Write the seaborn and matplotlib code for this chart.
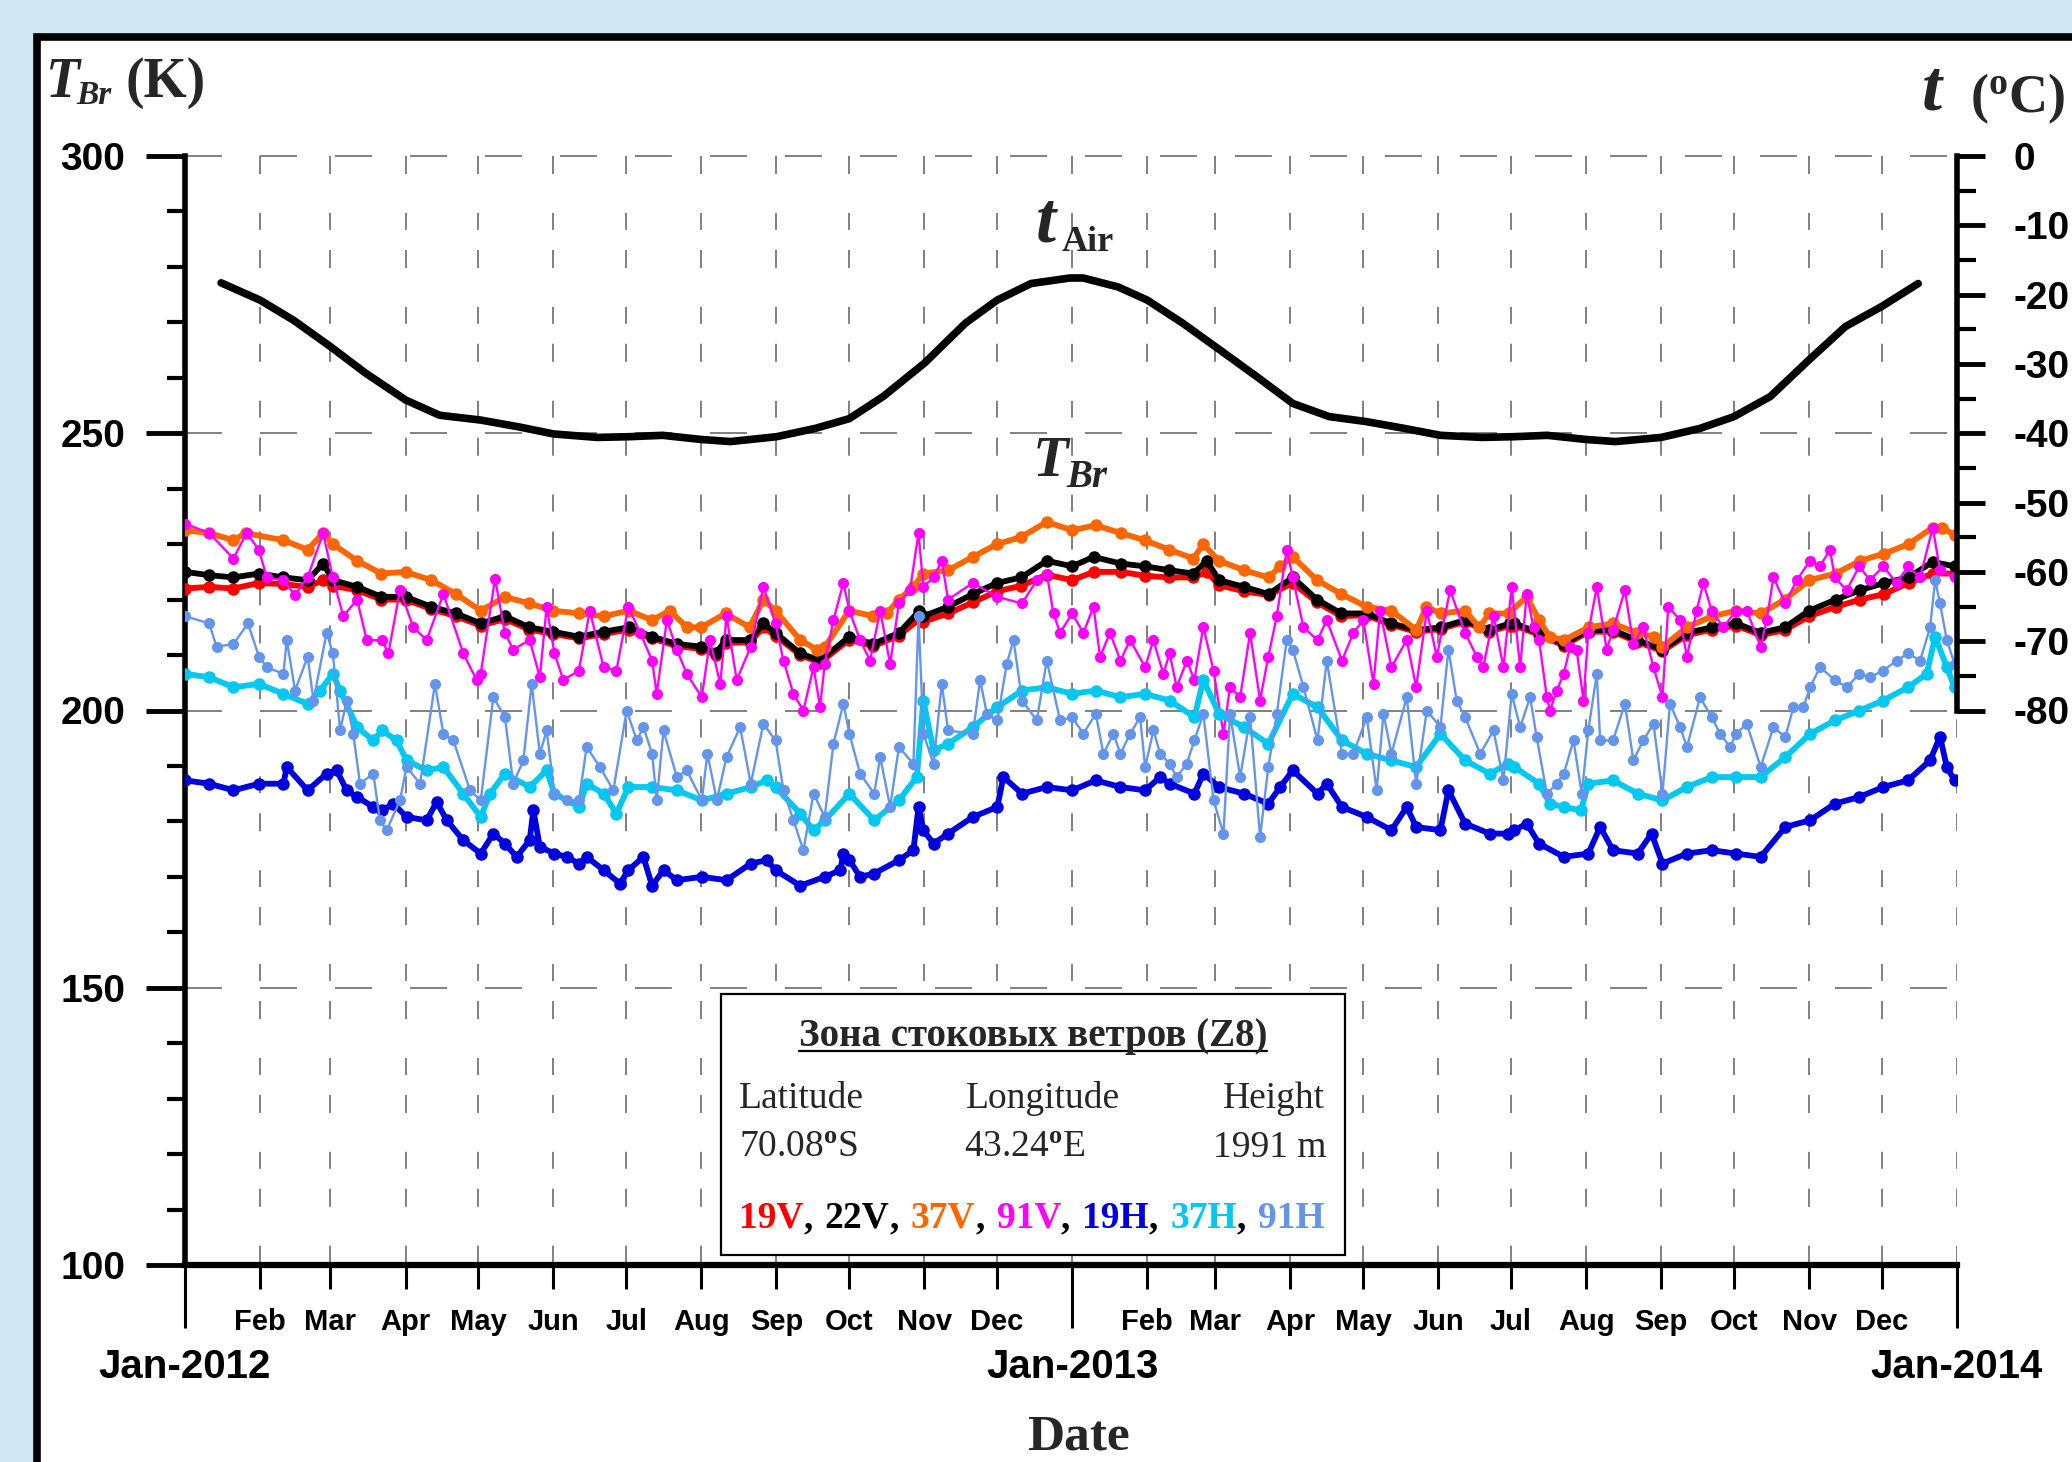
import numpy as np
import pandas as pd
import matplotlib
matplotlib.use('Agg')
import matplotlib.pyplot as plt
import matplotlib.dates as mdates
from matplotlib.patches import Rectangle
from matplotlib.lines import Line2D
from matplotlib.ticker import FixedLocator, FixedFormatter
import seaborn as sns

# ---------------- data (days since 2012-01-01, brightness temperature K) -------------
days_19v_22v = [0, 10, 20, 30.5, 40.6, 50.6, 57, 61, 71, 81, 91, 101.6, 111.8, 122, 132, 142, 152, 162.5, 172.7, 183,
                192.7, 203, 213, 219, 223, 233, 238.6, 243.6, 253.8, 262, 274, 284, 294.5, 303, 304.6, 314.8, 325, 335, 345, 355.5, 366,
                374.8, 386, 396, 406, 416, 421.5, 426.6, 436.8, 447, 457, 467, 477, 487.5, 497.7, 508, 518, 528, 538, 546.6,
                548.4, 558.6, 568.8, 579, 589, 599, 609.5, 619.6, 630, 640, 650, 660, 670, 681, 691, 701, 711, 721, 730]
tb_22v = [225, 224.4, 224, 224.7, 224, 223.5, 226.5, 223.5, 222.3, 220.5, 220.5, 218.7, 217.5, 215.7, 217, 215, 214.2, 213.3, 214.2, 215,
          213.3, 212, 211.5, 210.3, 212.7, 212.7, 215.7, 214, 210.3, 209, 213.3, 212, 214, 218, 217, 218.7, 221, 223, 224, 227, 226,
          227.7, 226.5, 226, 225.3, 224.7, 227, 223.5, 222.3, 221, 224, 220, 217.5, 217.5, 215.7, 214.5, 215, 216.3, 214.5, 215.7,
          215.7, 214, 212, 214.5, 214.5, 212.7, 211, 214, 215, 215.7, 214, 215, 218, 220, 221.7, 223, 224, 226.8, 226]
tb_19v = [222, 222.3, 222, 223, 222.8, 222.3, 223.5, 222.5, 221.7, 220, 220, 218.3, 217, 215.3, 216.5, 214.6, 213.8, 213, 213.8, 214.6,
          213, 211.6, 211.1, 210, 212.2, 212.3, 215, 213.5, 210, 208.6, 212.8, 211.6, 213.5, 216.5, 216, 217.5, 219.5, 221.5, 222.5, 224.5, 223.5,
          225, 225, 224.3, 224, 224, 225, 222.6, 221.5, 220.8, 223, 219.5, 217, 217.2, 215.4, 214.2, 214.7, 216, 214.2, 215.3,
          215.3, 213.7, 211.7, 214.2, 214.2, 212.4, 210.7, 213.6, 214.6, 215.3, 213.6, 214.5, 217, 218.7, 220, 221, 223, 224.7, 224.7]

days_37v = [0, 10, 20, 25, 40.6, 50.6, 57, 61, 71, 81, 91, 101.6, 111.8, 122, 132, 142, 152, 162.5, 172.7, 183,
            192.7, 200, 207, 213, 223, 233, 238.6, 243.6, 253.8, 260.6, 264, 274, 284, 289.5, 294.5, 300.5, 304.6, 314.8, 325, 335, 345, 355.5, 366,
            375.7, 386, 396, 406, 416, 420, 426.6, 436.8, 447, 451.8, 457, 467, 477, 487.5, 497.7, 508, 512, 518, 528, 534, 538, 546,
            553.5, 558.6, 563, 569, 579, 589, 599, 606, 609.5, 619.6, 630, 640, 650, 660, 670, 681, 691, 701, 711, 721, 725, 730]
tb_37v = [232.5, 232, 230.7, 232, 230.7, 229, 232, 230, 227, 224.7, 225, 223.5, 221, 218, 220.5, 219.3, 218, 217.5, 217, 218,
          216.3, 218, 215, 215, 217.5, 215, 220, 218, 212.7, 211, 211.5, 218, 217, 217.5, 220, 222.3, 224.7, 225.3, 227.7, 230, 231.3, 234, 232.5,
          233.4, 232, 230.7, 229, 227.4, 230, 227, 225.3, 224, 226, 227.7, 223.5, 221, 218.7, 218, 214.5, 218.7, 217.5, 218, 215, 217.5, 217.5,
          220.5, 216.3, 213.3, 212.7, 215, 215.7, 214, 213.3, 211.5, 215, 217, 218, 217.5, 220, 223.5, 224.7, 227, 228.3, 230, 233, 233, 231.6]

days_91v = [0, 10, 20, 25.4, 30.5, 33.7, 40.6, 45.4, 50.6, 57, 61, 65.3, 71, 75, 81.3, 83.9, 88.7, 94.2, 99.7, 106.6, 114.8, 120.3,
            122, 127.9, 132, 135.4, 142.2, 146.4, 149.2, 152.4, 156.1, 162.5, 167, 172.7, 178, 182.9,
            187.8, 192.7, 194.6, 198.8, 202.9, 207, 213.2, 216.6, 220.8, 223.4, 227.6, 233.4, 238.6, 243.6, 246.9, 251, 255.1, 259.3,
            262, 263.9, 267.5, 271.6, 274.1, 278.5, 282.6, 286.8, 290.9, 294.5, 299.1, 302.6, 304.6, 308.8, 312.2, 314.8, 325, 335.1,
            345.3, 351.4, 355.5, 358.3, 361, 366,
            370.6, 374.8, 377.5, 381.6, 385.9, 389.9, 396.1, 399.5, 403.6, 406.2, 409.1, 413.3, 416.4, 420.1, 424.3, 428.4, 431.1,
            435.3, 439.4, 443.5, 446.9, 450.4, 454.5, 457, 461.4, 467.2, 471, 477.3, 482, 486.1, 490.3, 493, 497.7, 504, 507.9, 512.3,
            516.4, 521.9, 528.1, 532.9, 535.6, 539.8, 543.9,
            547.3, 550.8, 553.5, 556.3, 558.6, 561.8, 563.1, 565.9, 568.8, 571.4, 574.1, 576.9, 578.9, 582.4, 586.5, 589.1, 594,
            597.5, 601.6, 605.8, 609.5, 611.9, 616.8, 619.6, 623.6, 626.4, 629.8, 634.6, 639.9, 644.3, 650, 652.5, 655.3, 660.2,
            664.9, 670.4, 674.5, 678.6, 680.6, 685.5, 690.7, 695.1, 700.6, 706.1, 710.8, 715.8, 721, 724, 730]
tb_91v = [233.7, 232, 227.4, 232, 229, 224, 223.5, 220.8, 224, 232, 224, 217, 220, 212.7, 212.7, 210.3, 221.7, 215, 212.7, 221, 210.3, 205.5,
          206.6, 223.8, 214, 211, 212.7, 206, 218.7, 210.3, 205.5, 207.2, 218, 207.8, 207.2, 218.7,
          214, 209, 203, 216.3, 211, 206.6, 202.4, 212.7, 204.8, 217, 205.5, 211.5, 222.3, 215.7, 209, 203, 200, 207.8,
          200.6, 208.4, 216.3, 223, 218, 212.7, 209, 218, 208.4, 219.3, 221.7, 232, 222.3, 224, 227, 220, 223, 220.5,
          219.3, 223.5, 224.7, 217.5, 214, 217.5,
          214, 218.7, 209.7, 214, 209, 212.7, 207.8, 212.7, 206.6, 210.3, 204.2, 209, 205.5, 215.1, 207.2, 195.8, 204.2,
          202.4, 214, 201.8, 209.7, 217, 229, 224, 215, 212.7, 216.3, 209, 214, 216.3, 204.8, 218, 207.8, 212.7, 204.2, 218,
          209.7, 221.7, 214, 209.7, 207.8, 217, 207.8,
          222.3, 207.8, 221, 215, 212.7, 202.4, 200, 203.6, 206.6, 211.5, 211, 201.8, 214, 222.3, 211, 214.5, 221.7,
          212, 215, 207.8, 202.4, 218.7, 216.3, 209.7, 218, 223, 218, 215, 218, 218, 211.5, 216.3, 224, 219.3,
          223.5, 227, 226, 229, 224, 221.7, 226, 223.5, 226, 223, 226, 224, 233, 225.3, 224]

days_19h = [0, 10, 20, 30.5, 40.6, 42, 50.6, 58.4, 62.6, 66.7, 71, 77.7, 81.3, 86, 91.4, 99.7, 103.8, 108, 114.8, 122, 127.2,
            132, 136.8, 142.2, 143.7, 146.4, 152.4, 157.4, 162.5, 165.7, 172.7, 179.4, 182.9,
            189.1, 192.7, 197.4, 202.9, 213.2, 223.4, 233.4, 240, 243.6, 253.8, 263.9, 270.3, 271.6, 274.1, 278.5, 284.3, 294.5,
            300.5, 302.6, 304.6, 308.8, 314.8, 325, 335.1, 337.6, 345.3, 355.5, 366,
            375.7, 385.9, 396.1, 402.3, 406.2, 416.4, 420.1, 426.6, 436.8, 446.9, 451.8, 457, 467.2, 471, 477.3, 487.5, 497.7,
            504, 507.9, 517.9, 521.2, 528.1, 538.2, 545.9,
            548.4, 553.5, 558.6, 568.8, 578.9, 583.8, 589.1, 599.3, 605, 609.5, 619.6, 629.8, 639.9, 650, 660.2, 670.4, 680.6,
            690.7, 700.6, 710.8, 719.9, 724, 726.8, 730]
tb_19h = [187.4, 186.8, 185.6, 186.8, 186.8, 189.8, 185.6, 188.6, 189.2, 185.6, 184.4, 182.6, 182, 183.2, 180.8, 180.2, 183.5, 180.2, 176.6, 174.2, 177.8,
          176, 173.6, 176.6, 182, 175.4, 174.2, 173.6, 172.4, 173.6, 171.2, 168.8, 171.2,
          173.6, 168.4, 171.2, 169.4, 170, 169.4, 172.4, 173, 171.2, 168.4, 170, 171.2, 174.2, 173, 170, 170.6, 173,
          174.8, 182.6, 178.4, 176, 177.8, 180.8, 182.6, 188, 185, 186.2, 185.6,
          187.4, 186.2, 185.6, 188, 186.8, 185, 188.6, 186.2, 185, 183.2, 186.2, 189.2, 185, 186.8, 182.6, 180.8, 178.4,
          182.6, 179, 178.4, 185.6, 179.6, 177.8, 177.8,
          178.4, 179.6, 176, 173.6, 174.2, 179, 174.8, 174.2, 177.8, 172.4, 174.2, 174.8, 174.2, 173.6, 179, 180.2, 183.2,
          184.4, 186.2, 187.4, 191, 195.3, 189.8, 187.4]

days_37h = [0, 10, 20, 30.5, 40.6, 50.6, 55.7, 61, 64, 71, 77.7, 81.3, 87.3, 91.4, 99.7, 106.6, 114.8, 122, 125.8, 132, 142.2,
            149.2, 152.4, 162.5, 165.7, 172.7, 178, 182.9,
            192.7, 202.9, 213.2, 223.4, 233.4, 240, 243.6, 253.8, 259.3, 263.9, 274.1, 284.3, 294.5, 301.9, 304.6, 308.8, 314.8,
            325, 335.1, 345.3, 355.5, 366,
            375.7, 385.9, 396.1, 406.2, 416.4, 420.1, 426.6, 436.8, 446.9, 457, 467.2, 477.3, 487.5, 497.7, 507.9, 517.9, 528.1,
            538.2, 545.9,
            548.4, 558.6, 563.1, 568.8, 575.9, 578.9, 589.1, 599.3, 609.5, 619.6, 629.8, 639.9, 650, 660.2, 670.4, 680.6, 690.7,
            700.6, 710.8, 718.5, 722, 726.8, 730]
tb_37h = [206.6, 206, 204.2, 204.8, 203, 201.2, 203.6, 206.6, 203.6, 197, 194.6, 196.4, 194.6, 191, 189.2, 189.8, 185, 180.8, 185, 188.6, 186.2,
          189.2, 185, 182.6, 186.8, 185, 181.4, 186.2,
          186.2, 185.6, 183.8, 185, 186.2, 187.4, 186.2, 181.4, 178.4, 180.2, 185, 180.2, 183.8, 188, 201.8, 192.8, 194,
          197, 200.6, 203.6, 204.2, 203,
          203.6, 202.4, 203, 201.8, 198.8, 205.5, 199.4, 197, 194, 203, 200.6, 194.6, 192.2, 191, 189.8, 195.8, 191,
          188.6, 190.4,
          189.8, 186.8, 183.2, 182.6, 182, 186.8, 187.4, 185, 183.8, 186.2, 188, 188, 188, 191.6, 195.8, 198.2, 200,
          201.8, 204.2, 206.6, 213.3, 207.8, 204.2]

days_91h = [0, 10, 13, 20, 26, 30.5, 33.7, 40.6, 42, 45.4, 50.6, 53, 58.4, 61, 64, 66.7, 69.4, 72.2, 77.7, 80.4, 83.2, 88.7,
            91.4, 97, 103.1, 106.6, 110.7, 117.6, 122, 127.2, 132, 135.4, 139.6, 143, 146.4, 149.2, 152.4, 157.4, 162.5, 165.7,
            171.2, 176.7, 182.2,
            186.4, 189.1, 192.7, 194.6, 197.4, 202.9, 207, 213.2, 215.5, 219.4, 223.4, 229, 233.4, 238.6, 243.6, 246.9, 251,
            255.1, 259.3, 263.9, 267.5, 271.6, 274.1, 278.5, 284.3, 286.8, 290.9, 294.5, 300.5, 302.6, 304.6, 308.8, 312.2,
            314.8, 325, 328, 330.8, 335.1, 339, 341.8, 345.3, 351.4, 355.5, 361, 366,
            370.6, 375.7, 378.9, 383, 385.9, 389.9, 394, 396.1, 399.5, 402.3, 406.2, 409.1, 413.3, 416.4, 420.1, 424.3, 428.4,
            431.1, 435.3, 439.4, 443.5, 446.9, 450.4, 454.5, 457, 461.4, 467.2, 471, 477.3, 482, 487.5, 491.6, 494.4, 497.7,
            504, 507.9, 512.3, 517.9, 521.2, 524.6, 528.1, 534.3, 539.8, 543.9,
            547.3, 550.8, 554.9, 557.6, 561.8, 565.9, 568.8, 572.8, 576.2, 578.9, 582.4, 583.8, 589.1, 594, 597.5, 601.6,
            605.8, 609.5, 612.6, 616.8, 619.6, 625, 629.8, 633.3, 637.4, 639.9, 644.3, 650, 655.3, 660.2, 663.5, 667.6,
            670.4, 674.5, 680.6, 685.5, 690.7, 695.1, 700.6, 706.1, 710.8, 715.8, 719.9, 722, 724, 726.8, 730]
tb_91h = [217, 215.7, 211.5, 212, 215.7, 209.7, 207.8, 206.6, 212.7, 203.6, 209.7, 201.8, 214, 210.3, 196.4, 201.8, 195.8, 186.8, 188.6, 180.2, 178.4, 183.8,
          189.8, 186.8, 204.8, 195.8, 194.6, 185.6, 183.8, 202.4, 198.8, 186.8, 191, 204.8, 192.2, 196.4, 185, 183.8, 183.8, 193.4,
          189.8, 185.6, 200,
          194.6, 197, 192.2, 183.8, 196.4, 188, 189.2, 183.8, 192.2, 183.8, 191.6, 197, 186.8, 197.6, 194.6, 185.6, 180.2,
          174.8, 185, 180.8, 194, 201.2, 195.8, 188.6, 185, 191.6, 182.6, 193.4, 190.4, 217, 195.8, 190.4, 204.8,
          196.4, 195.8, 205.5, 199.4, 198.2, 208.4, 212.7, 201.8, 198.2, 209, 198.2, 198.8,
          195.8, 199.4, 192.2, 195.8, 192.2, 195.8, 198.8, 189.8, 196.4, 192.2, 190.4, 188, 190.4, 194.6, 199.4, 183.8, 177.8,
          199.4, 188, 198.8, 177.2, 189.8, 199.4, 212.7, 211, 204.2, 194.6, 209, 192.2, 192.2, 198.8, 185.6, 199.4, 192.2,
          202.4, 186.8, 200, 197, 211, 201.8, 198.8, 192.2, 196.4, 187.4,
          203, 197, 202.4, 195.2, 185, 186.8, 188.6, 194.6, 185, 196.4, 206.6, 194.6, 194.6, 201.2, 191, 194.6,
          197.6, 185, 201.2, 197, 193.4, 202.4, 198.8, 195.8, 193.4, 195.8, 197.6, 189.8, 197, 195.2, 200.6, 200.6,
          204.2, 207.8, 205.5, 204.2, 206.6, 206, 207.2, 209, 210.3, 209, 215, 223.5, 219.3, 212.7, 208.4]

# air temperature (deg C), right axis
days_air = [14.9, 31, 44.8, 60, 74.4, 91, 105, 122, 138, 152, 170, 183, 197, 213, 225, 244, 260, 274, 288, 305, 322, 335, 349, 365,
            370.5, 385, 397, 411.5, 427, 442, 457, 472, 487, 503, 518, 535, 548, 562, 578, 590, 609, 625, 639, 654, 670, 685, 700, 715]
t_air = [-18.3, -20.8, -23.7, -27.5, -31.3, -35.2, -37.4, -38.1, -39.1, -40.1, -40.6, -40.5, -40.3, -40.9, -41.2, -40.5, -39.3, -37.9,
         -34.7, -29.9, -24.1, -20.8, -18.4, -17.6, -17.6, -18.9, -20.8, -24.1, -28, -31.8, -35.7, -37.6, -38.3, -39.3, -40.3, -40.6,
         -40.5, -40.3, -40.9, -41.2, -40.6, -39.3, -37.6, -34.7, -29.4, -24.6, -21.7, -18.4]

channels = ['19V', '22V', '37V', '91V', '19H', '37H', '91H']
year_dates = ['2012-01-01', '2013-01-01', '2014-01-01']
year_labels = ['Jan-2012', 'Jan-2013', 'Jan-2014']
month_dates = ['2012-%02d-01' % m for m in range(2, 13)] + ['2013-%02d-01' % m for m in range(2, 13)]
month_labels = ['Feb', 'Mar', 'Apr', 'May', 'Jun', 'Jul', 'Aug', 'Sep', 'Oct', 'Nov', 'Dec'] * 2
tb_ticks = [100, 150, 200, 250, 300]
tb_tick_labels = ['100', '150', '200', '250', '300']
tc_ticks = [0, -10, -20, -30, -40, -50, -60, -70, -80]
tc_tick_labels = ['0', '-10', '-20', '-30', '-40', '-50', '-60', '-70', '-80']

# ---------------- style ----------------
sns.set_theme(style='white')
plt.rcParams['font.family'] = ['Liberation Sans', 'DejaVu Sans']
plt.rcParams['font.weight'] = 'bold'
plt.rcParams['mathtext.fontset'] = 'custom'
plt.rcParams['mathtext.rm'] = 'Liberation Serif'
plt.rcParams['mathtext.bf'] = 'Liberation Serif:bold'
plt.rcParams['mathtext.it'] = 'Liberation Serif:italic'
plt.rcParams['lines.scale_dashes'] = False
plt.rcParams['axes.unicode_minus'] = False
SERIF = ['Liberation Serif', 'DejaVu Serif']

W, H = 2072, 1462
fig = plt.figure(figsize=(W / 100, H / 100), dpi=100)
fig.patch.set_facecolor('#d0e6f1')


def fx(x):
    return x / W


def fy(y):
    return 1 - y / H


fig.add_artist(Rectangle((fx(37), -0.1), 1.2, fy(37) + 0.1, transform=fig.transFigure,
                         facecolor='white', edgecolor='black', lw=5.5, zorder=-1))

ax = fig.add_axes([fx(185), fy(1265), (1957 - 185) / W, (1265 - 156) / H])
ax.patch.set_visible(False)

START = pd.Timestamp('2012-01-01')
END = pd.Timestamp('2014-01-01')


def to_dates(days):
    return START + pd.to_timedelta(np.asarray(days, dtype=float), unit='D')


colors = {'19V': '#ff0000', '22V': '#000000', '37V': '#ff6600', '91V': '#ff00ff',
          '19H': '#0000dd', '37H': '#00c8f0', '91H': '#6495ed'}
series = [('19V', days_19v_22v, tb_19v, 'smooth'),
          ('22V', days_19v_22v, tb_22v, 'smooth'),
          ('37V', days_37v, tb_37v, 'smooth'),
          ('91V', days_91v, tb_91v, 'noisy'),
          ('19H', days_19h, tb_19h, 'smooth'),
          ('37H', days_37h, tb_37h, 'smooth'),
          ('91H', days_91h, tb_91h, 'noisy')]

# grid (dashed)
for yv in [150, 200, 250, 300]:
    ax.plot([START, END], [yv, yv], color='#808080', lw=1.4, dashes=(26.6, 27.4), zorder=1, clip_on=False)
for m in pd.to_datetime(month_dates + year_dates[1:]):
    ax.plot([m, m], [300, 100], color='#808080', lw=1.4, dashes=(13, 28, 12.2, 14.4), zorder=1)

for name, d, v, kind in series:
    lw, ms = (4.2, 9.0) if kind == 'smooth' else (1.7, 8.0)
    sns.lineplot(x=to_dates(d), y=v, ax=ax, color=colors[name], lw=lw, marker='o', markersize=ms,
                 markeredgewidth=0, estimator=None, legend=False, zorder=3, solid_joinstyle='round')

ax.set_xlim(START, END)
ax.set_ylim(100, 300)
ax.set_xlabel('')
ax.set_ylabel('')

ax.xaxis.set_major_locator(FixedLocator(mdates.date2num(pd.to_datetime(year_dates))))
ax.xaxis.set_major_formatter(FixedFormatter(year_labels))
ax.xaxis.set_minor_locator(FixedLocator(mdates.date2num(pd.to_datetime(month_dates))))
ax.xaxis.set_minor_formatter(FixedFormatter(month_labels))
ax.yaxis.set_major_locator(FixedLocator(tb_ticks))
ax.yaxis.set_major_formatter(FixedFormatter(tb_tick_labels))
ax.yaxis.set_minor_locator(FixedLocator(list(range(110, 300, 10))))

ax.tick_params(axis='x', which='major', bottom=True, length=45, width=2.2, pad=15, labelsize=29,
               colors='black', direction='out')
ax.tick_params(axis='x', which='minor', bottom=True, length=17, width=2.2, pad=14, labelsize=21,
               colors='black', direction='out')
ax.tick_params(axis='y', which='major', left=True, length=28, width=3.5, pad=15, labelsize=28,
               colors='black', direction='out')
ax.tick_params(axis='y', which='minor', left=True, length=13, width=3, colors='black', direction='out')

for s in ['top', 'right']:
    ax.spines[s].set_visible(False)
ax.spines['left'].set_linewidth(4)
ax.spines['left'].set_color('black')
ax.spines['bottom'].set_linewidth(4.5)
ax.spines['bottom'].set_color('black')

# right axis (air temperature)
ax2 = ax.twinx()
ax2.set_ylim(-160, 0)
sns.lineplot(x=to_dates(days_air), y=t_air, ax=ax2, color='black', lw=5.5, legend=False,
             solid_capstyle='round', solid_joinstyle='round', zorder=4)
ax2.set_ylabel('')
for s in ['top', 'left', 'bottom']:
    ax2.spines[s].set_visible(False)
ax2.spines['right'].set_bounds(-80, 0)
ax2.spines['right'].set_linewidth(4)
ax2.spines['right'].set_color('black')
ax2.yaxis.set_major_locator(FixedLocator(tc_ticks))
ax2.yaxis.set_major_formatter(FixedFormatter(tc_tick_labels))
ax2.yaxis.set_minor_locator(FixedLocator(list(range(-75, 0, 10))))
ax2.tick_params(axis='y', which='major', right=True, left=False, length=20, width=3.5, pad=21,
                labelsize=28, colors='black', direction='out')
ax2.tick_params(axis='y', which='minor', right=True, left=False, length=14, width=3, colors='black',
                direction='out')

# ---------------- texts ----------------
fig.text(fx(46), fy(97), 'T', fontsize=40, family=SERIF, style='italic', weight='bold', va='baseline')
fig.text(fx(76), fy(104), 'Br', fontsize=24, family=SERIF, style='italic', weight='bold', va='baseline')
fig.text(fx(125), fy(97), '(K)', fontsize=40, family=SERIF, weight='bold', va='baseline')

fig.text(fx(1922), fy(110), 't', fontsize=52, family=SERIF, style='italic', weight='bold', va='baseline')
fig.text(fx(1970), fy(112), r'($\mathbf{^{o}}$C)', fontsize=39, family=SERIF, weight='bold', va='baseline')

fig.text(fx(1036), fy(242), 't', fontsize=52, family=SERIF, style='italic', weight='bold', va='baseline')
fig.text(fx(1062), fy(251), 'Air', fontsize=26, family=SERIF, weight='bold', va='baseline')

fig.text(fx(1033), fy(476), 'T', fontsize=42, family=SERIF, style='italic', weight='bold', va='baseline')
fig.text(fx(1066), fy(487), 'Br', fontsize=28, family=SERIF, style='italic', weight='bold', va='baseline')

fig.text(fx(1078), fy(1450), 'Date', fontsize=37, family=SERIF, weight='bold', ha='center', va='baseline')

# info box
fig.add_artist(Rectangle((fx(721), fy(1255)), (1345 - 721) / W, (1255 - 994) / H, transform=fig.transFigure,
                         facecolor='white', edgecolor='black', lw=1.6, zorder=5))
renderer = fig.canvas.get_renderer()
title = fig.text(fx(1033), fy(1046), 'Зона стоковых ветров (Z8)', fontsize=28, family=SERIF, weight='bold',
                 ha='center', va='baseline', zorder=6)
bb = title.get_window_extent(renderer=renderer)
fig.add_artist(Line2D([bb.x0 / W, bb.x1 / W], [fy(1051), fy(1051)], transform=fig.transFigure,
                      color='black', lw=1.6, zorder=6))
kw = dict(fontsize=27, family=SERIF, weight='normal', va='baseline', zorder=6)
fig.text(fx(739), fy(1108), 'Latitude', ha='left', **kw)
fig.text(fx(966), fy(1108), 'Longitude', ha='left', **kw)
fig.text(fx(1325), fy(1108), 'Height', ha='right', **kw)
fig.text(fx(739), fy(1157), r'70.08$^{\mathrm{o}}$S', ha='left', **kw)
fig.text(fx(964), fy(1157), r'43.24$^{\mathrm{o}}$E', ha='left', **kw)
fig.text(fx(1327), fy(1157), '1991 m', ha='right', **kw)

xpos = 739
for i, ch in enumerate(channels):
    t = fig.text(fx(xpos), fy(1228), ch, color=colors[ch], fontsize=27, family=SERIF, weight='bold',
                 va='baseline', zorder=6)
    xpos += t.get_window_extent(renderer=renderer).width
    if i < len(channels) - 1:
        c = fig.text(fx(xpos), fy(1228), ',', color='black', fontsize=27, family=SERIF, weight='bold',
                     va='baseline', zorder=6)
        xpos += c.get_window_extent(renderer=renderer).width + 12

fig.savefig('out.png', dpi=100)
